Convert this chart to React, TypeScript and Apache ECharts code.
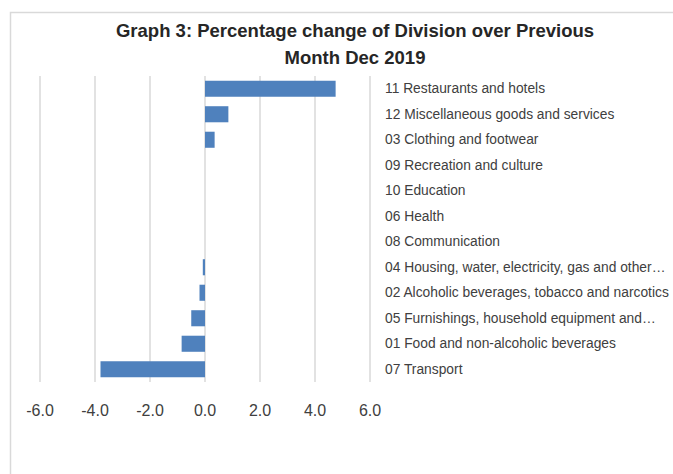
import React, { useEffect, useRef } from "react";
import * as echarts from "echarts";

const titleText = "Graph 3: Percentage change of Division over Previous\nMonth Dec 2019";

const categories = [
  "11 Restaurants and hotels",
  "12 Miscellaneous goods and services",
  "03 Clothing and footwear",
  "09 Recreation and culture",
  "10 Education",
  "06 Health",
  "08 Communication",
  "04 Housing, water, electricity, gas and other…",
  "02 Alcoholic beverages, tobacco and narcotics",
  "05 Furnishings, household equipment and…",
  "01 Food and non-alcoholic beverages",
  "07 Transport",
];

const changeValues = [4.75, 0.85, 0.35, 0, 0, 0, 0, -0.08, -0.2, -0.5, -0.85, -3.8];

const xMin = -6;
const xMax = 6;
const xInterval = 2;

export default function App() {
  const ref = useRef<HTMLDivElement>(null);
  useEffect(() => {
    if (!ref.current) return;
    const chart = echarts.init(ref.current, null, { renderer: "svg" });
    chart.setOption({
      animation: false,
      backgroundColor: "#ffffff",
      textStyle: { fontFamily: "Liberation Sans" },
      graphic: [
        {
          type: "rect",
          shape: { x: 10.5, y: 12.5, width: 700, height: 500 },
          style: { fill: "none", stroke: "#d9d9d9", lineWidth: 1.5 },
          silent: true,
        },
      ],
      title: {
        text: titleText,
        left: 350,
        top: 12,
        textAlign: "center",
        textStyle: {
          fontFamily: "Liberation Sans",
          fontSize: 18.5,
          fontWeight: "bold",
          color: "#262626",
          lineHeight: 27,
        },
      },
      grid: { left: 40, right: 303, top: 76, bottom: 92, containLabel: false },
      xAxis: {
        type: "value",
        min: xMin,
        max: xMax,
        interval: xInterval,
        axisLine: { show: false },
        axisTick: { show: false },
        axisLabel: {
          formatter: (v: number) => v.toFixed(1),
          fontSize: 16,
          color: "#404040",
          margin: 20,
        },
        splitLine: { show: true, lineStyle: { color: "#d9d9d9", width: 1.5 } },
      },
      yAxis: {
        type: "category",
        data: categories,
        inverse: true,
        position: "right",
        axisLine: { show: false },
        axisTick: { show: false },
        axisLabel: {
          fontSize: 13.8,
          color: "#404040",
          margin: 15,
          align: "left",
        },
      },
      series: [
        {
          type: "bar",
          data: changeValues,
          barWidth: "63%",
          itemStyle: { color: "#4f81bd" },
        },
      ],
    });
    return () => chart.dispose();
  }, []);
  return (
    <div
      ref={ref}
      style={{ position: "fixed", left: 0, top: 0, width: 673, height: 474 }}
    />
  );
}
